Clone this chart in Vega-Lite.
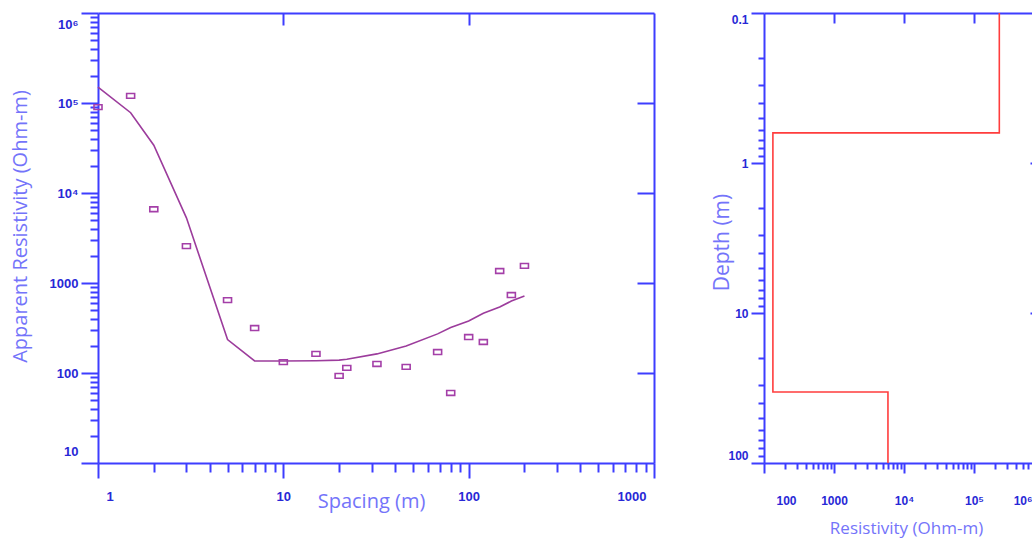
{
  "$schema": "https://vega.github.io/schema/vega-lite/v6.json",
  "background": "white",
  "padding": {"left": 10, "top": 9, "right": 0, "bottom": 12},
  "config": {
    "view": {"stroke": null},
    "axis": {
      "grid": false,
      "domainColor": "#3d3dff",
      "tickColor": "#3d3dff",
      "domainWidth": 2,
      "tickWidth": 2,
      "labelColor": "#2828d6",
      "labelFont": "Liberation Sans",
      "labelFontWeight": "bold",
      "labelFontSize": 13,
      "titleColor": "#7474fa",
      "titleFont": "Open Sans",
      "titleFontWeight": "normal"
    }
  },
  "datasets": {
    "curve": [
      {"spacing": 1, "rho": 150000},
      {"spacing": 1.5, "rho": 78000},
      {"spacing": 2, "rho": 34000},
      {"spacing": 3, "rho": 5300},
      {"spacing": 5, "rho": 235},
      {"spacing": 7, "rho": 136},
      {"spacing": 10, "rho": 136},
      {"spacing": 15, "rho": 137},
      {"spacing": 20, "rho": 139},
      {"spacing": 22, "rho": 142},
      {"spacing": 32, "rho": 163},
      {"spacing": 46, "rho": 200},
      {"spacing": 68, "rho": 272},
      {"spacing": 80, "rho": 320},
      {"spacing": 100, "rho": 378},
      {"spacing": 120, "rho": 462},
      {"spacing": 147, "rho": 540},
      {"spacing": 170, "rho": 630},
      {"spacing": 200, "rho": 715}
    ],
    "obs": [
      {"spacing": 1, "rho": 90000},
      {"spacing": 1.5, "rho": 120000},
      {"spacing": 2, "rho": 6600},
      {"spacing": 3, "rho": 2570},
      {"spacing": 5, "rho": 645},
      {"spacing": 7, "rho": 316},
      {"spacing": 10, "rho": 132},
      {"spacing": 15, "rho": 163},
      {"spacing": 20, "rho": 93},
      {"spacing": 22, "rho": 114},
      {"spacing": 32, "rho": 126},
      {"spacing": 46, "rho": 117},
      {"spacing": 68, "rho": 171},
      {"spacing": 80, "rho": 60},
      {"spacing": 100, "rho": 251},
      {"spacing": 120, "rho": 221},
      {"spacing": 147, "rho": 1360},
      {"spacing": 170, "rho": 735},
      {"spacing": 200, "rho": 1550}
    ],
    "model": [
      {"i": 0, "res": 230000, "depth": 0.1},
      {"i": 1, "res": 230000, "depth": 0.63},
      {"i": 2, "res": 134, "depth": 0.63},
      {"i": 3, "res": 134, "depth": 33.6},
      {"i": 4, "res": 5900, "depth": 33.6},
      {"i": 5, "res": 5900, "depth": 100}
    ]
  },
  "bounds": "flush",
  "spacing": 110,
  "hconcat": [
    {
      "width": 556,
      "height": 450,
      "resolve": {"axis": {"x": "independent", "y": "independent"}},
      "layer": [
        {
          "data": {"name": "curve"},
          "mark": {"type": "line", "color": "#9c3c9c", "strokeWidth": 1.6},
          "encoding": {
            "x": {
              "field": "spacing", "type": "quantitative",
              "scale": {"type": "log", "domain": [1, 1000]},
              "axis": {
                "orient": "bottom", "values": [1, 10, 100, 1000], "format": "d",
                "tickSize": 15, "labelPadding": 12, "labelFlush": true, "labelFlushOffset": -8,
                "title": "Spacing (m)", "titleFontSize": 20, "titleX": 273, "titleY": 44,
                "titleBaseline": "alphabetic"
              }
            },
            "y": {
              "field": "rho", "type": "quantitative",
              "scale": {"type": "log", "domain": [10, 1000000]},
              "axis": {
                "orient": "left", "values": [10, 100, 1000, 10000, 100000, 1000000],
                "labelExpr": "datum.value == 10000 ? '10⁴' : datum.value == 100000 ? '10⁵' : datum.value == 1000000 ? '10⁶' : format(datum.value, 'd')",
                "tickSize": 17, "labelPadding": 3, "labelFlush": true, "labelFlushOffset": -5,
                "title": "Apparent Resistivity  (Ohm-m)", "titleFontSize": 20,
                "titleX": -78, "titleY": 213, "titleBaseline": "middle"
              }
            }
          }
        },
        {
          "data": {"name": "obs"},
          "mark": {"type": "point", "shape": "M-1,-0.6H1V0.6H-1Z", "size": 64, "filled": false, "color": "#a43fa8", "strokeWidth": 1.6, "opacity": 1},
          "encoding": {
            "x": {
              "field": "spacing", "type": "quantitative",
              "scale": {"type": "log", "domain": [1, 1000]},
              "axis": {
                "orient": "bottom", "values": [2, 3, 4, 5, 6, 7, 8, 9, 20, 30, 40, 50, 60, 70, 80, 90, 200, 300, 400, 500, 600, 700, 800, 900],
                "tickSize": 9, "labels": false, "domain": false, "title": null
              }
            },
            "y": {
              "field": "rho", "type": "quantitative",
              "scale": {"type": "log", "domain": [10, 1000000]},
              "axis": {
                "orient": "left", "values": [20, 30, 40, 50, 60, 70, 80, 90, 200, 300, 400, 500, 600, 700, 800, 900, 2000, 3000, 4000, 5000, 6000, 7000, 8000, 9000, 20000, 30000, 40000, 50000, 60000, 70000, 80000, 90000, 200000, 300000, 400000, 500000, 600000, 700000, 800000, 900000],
                "tickSize": 8, "labels": false, "domain": false, "title": null
              }
            }
          }
        },
        {
          "data": {"name": "obs"},
          "mark": {"type": "point", "opacity": 0},
          "encoding": {
            "x": {
              "field": "spacing", "type": "quantitative",
              "scale": {"type": "log", "domain": [1, 1000]},
              "axis": {"orient": "top", "values": [10, 100], "tickSize": -12, "labels": false, "title": null}
            },
            "y": {
              "field": "rho", "type": "quantitative",
              "scale": {"type": "log", "domain": [10, 1000000]},
              "axis": {"orient": "right", "values": [100, 1000, 10000, 100000], "tickSize": -17, "labels": false, "title": null}
            }
          }
        }
      ]
    },
    {
      "width": 280,
      "height": 450,
      "resolve": {"axis": {"x": "independent", "y": "independent"}},
      "layer": [
        {
          "data": {"name": "model"},
          "mark": {"type": "line", "color": "#ff3d3d", "strokeWidth": 1.6},
          "encoding": {
            "x": {
              "field": "res", "type": "quantitative",
              "scale": {"type": "log", "domain": [100, 1000000]},
              "axis": {
                "orient": "bottom", "values": [100, 1000, 10000, 100000, 1000000],
                "labelExpr": "datum.value == 10000 ? '10⁴' : datum.value == 100000 ? '10⁵' : datum.value == 1000000 ? '10⁶' : format(datum.value, 'd')",
                "tickSize": 10, "labelPadding": 22, "labelFlush": true, "labelFlushOffset": -12, "labelFontSize": 12,
                "title": "Resistivity (Ohm-m)", "titleFontSize": 17, "titleX": 142, "titleY": 65,
                "titleBaseline": "middle"
              }
            },
            "y": {
              "field": "depth", "type": "quantitative",
              "scale": {"type": "log", "domain": [0.1, 100], "reverse": true},
              "axis": {
                "orient": "left", "values": [0.1, 1, 10, 100],
                "labelExpr": "datum.value < 1 ? '0.1' : format(datum.value, 'd')",
                "tickSize": 13, "labelPadding": 3, "labelFlush": true, "labelFlushOffset": -1, "labelFontSize": 12,
                "title": "Depth (m)", "titleFontSize": 21, "titleX": -42, "titleY": 229,
                "titleBaseline": "middle"
              }
            },
            "order": {"field": "i", "type": "quantitative"}
          }
        },
        {
          "data": {"name": "model"},
          "mark": {"type": "line", "opacity": 0},
          "encoding": {
            "x": {
              "field": "res", "type": "quantitative",
              "scale": {"type": "log", "domain": [100, 1000000]},
              "axis": {
                "orient": "bottom", "values": [200, 300, 400, 500, 600, 700, 800, 900, 2000, 3000, 4000, 5000, 6000, 7000, 8000, 9000, 20000, 30000, 40000, 50000, 60000, 70000, 80000, 90000, 200000, 300000, 400000, 500000, 600000, 700000, 800000, 900000],
                "tickSize": 6, "labels": false, "domain": false, "title": null
              }
            },
            "y": {
              "field": "depth", "type": "quantitative",
              "scale": {"type": "log", "domain": [0.1, 100], "reverse": true},
              "axis": {
                "orient": "left", "values": [0.2, 0.3, 0.4, 0.5, 0.6, 0.7, 0.8, 0.9, 2, 3, 4, 5, 6, 7, 8, 9, 20, 30, 40, 50, 60, 70, 80, 90],
                "tickSize": 6, "labels": false, "domain": false, "title": null
              }
            },
            "order": {"field": "i", "type": "quantitative"}
          }
        },
        {
          "data": {"name": "model"},
          "mark": {"type": "line", "opacity": 0},
          "encoding": {
            "x": {
              "field": "res", "type": "quantitative",
              "scale": {"type": "log", "domain": [100, 1000000]},
              "axis": {"orient": "top", "values": [1000, 10000, 100000], "tickSize": -10, "labels": false, "title": null}
            },
            "y": {
              "field": "depth", "type": "quantitative",
              "scale": {"type": "log", "domain": [0.1, 100], "reverse": true},
              "axis": {"orient": "right", "values": [1, 10], "tickSize": -14, "labels": false, "title": null}
            },
            "order": {"field": "i", "type": "quantitative"}
          }
        }
      ]
    }
  ]
}
